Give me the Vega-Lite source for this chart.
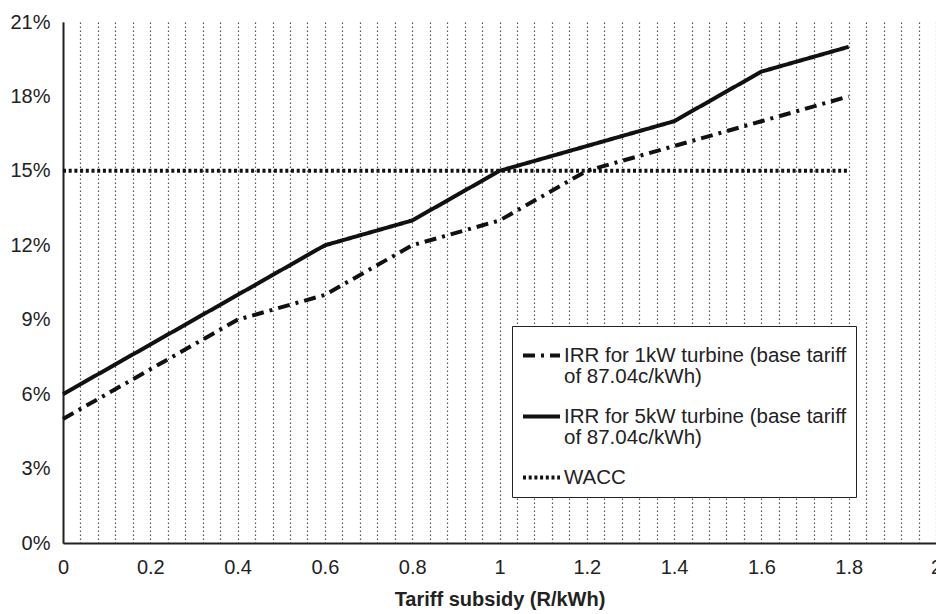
{
  "$schema": "https://vega.github.io/schema/vega-lite/v6.json",
  "width": 873,
  "height": 521,
  "autosize": {"type": "none"},
  "padding": {"left": 63, "top": 22, "right": 0, "bottom": 71},
  "background": "white",
  "config": {
    "view": {"stroke": null},
    "font": "Liberation Sans",
    "axis": {"labelFont": "Liberation Sans", "titleFont": "Liberation Sans", "labelColor": "#222", "titleColor": "#222"},
    "style": {"guide-label": {"lineHeight": 21}}
  },
  "data": {
    "values": [
      {"x": 0, "y": 0.05, "series": "1kW"},
      {"x": 0.2, "y": 0.07, "series": "1kW"},
      {"x": 0.4, "y": 0.09, "series": "1kW"},
      {"x": 0.6, "y": 0.10, "series": "1kW"},
      {"x": 0.8, "y": 0.12, "series": "1kW"},
      {"x": 1.0, "y": 0.13, "series": "1kW"},
      {"x": 1.2, "y": 0.15, "series": "1kW"},
      {"x": 1.4, "y": 0.16, "series": "1kW"},
      {"x": 1.6, "y": 0.17, "series": "1kW"},
      {"x": 1.8, "y": 0.18, "series": "1kW"},
      {"x": 0, "y": 0.06, "series": "5kW"},
      {"x": 0.2, "y": 0.08, "series": "5kW"},
      {"x": 0.4, "y": 0.10, "series": "5kW"},
      {"x": 0.6, "y": 0.12, "series": "5kW"},
      {"x": 0.8, "y": 0.13, "series": "5kW"},
      {"x": 1.0, "y": 0.15, "series": "5kW"},
      {"x": 1.2, "y": 0.16, "series": "5kW"},
      {"x": 1.4, "y": 0.17, "series": "5kW"},
      {"x": 1.6, "y": 0.19, "series": "5kW"},
      {"x": 1.8, "y": 0.20, "series": "5kW"},
      {"x": 0, "y": 0.15, "series": "WACC"},
      {"x": 1.8, "y": 0.15, "series": "WACC"}
    ]
  },
  "mark": {"type": "line", "color": "#111", "strokeWidth": 4},
  "encoding": {
    "x": {
      "field": "x", "type": "quantitative",
      "scale": {"domain": [0, 2], "nice": false, "zero": true},
      "axis": {
        "title": "Tariff subsidy (R/kWh)",
        "titleFontSize": 20, "titleFontWeight": "bold", "titlePadding": 12,
        "values": [0,0.04,0.08,0.12,0.16,0.2,0.24,0.28,0.32,0.36,0.4,0.44,0.48,0.52,0.56,0.6,0.64,0.68,0.72,0.76,0.8,0.84,0.88,0.92,0.96,1,1.04,1.08,1.12,1.16,1.2,1.24,1.28,1.32,1.36,1.4,1.44,1.48,1.52,1.56,1.6,1.64,1.68,1.72,1.76,1.8,1.84,1.88,1.92,1.96,2],
        "format": ".1~f",
        "labelExpr": "abs(datum.value*5 - round(datum.value*5)) < 0.001 ? datum.label : ''",
        "labelFontSize": 20, "labelPadding": 14, "labelFlush": false,
        "ticks": false,
        "domainColor": "#222", "domainWidth": 2,
        "grid": true, "gridColor": "#555", "gridDash": [1.5, 2.5], "gridWidth": 1.2
      }
    },
    "y": {
      "field": "y", "type": "quantitative",
      "scale": {"domain": [0, 0.21], "nice": false},
      "axis": {
        "title": null,
        "values": [0, 0.03, 0.06, 0.09, 0.12, 0.15, 0.18, 0.21],
        "format": ".0%",
        "labelFontSize": 20, "labelPadding": 13,
        "ticks": false, "grid": false,
        "domainColor": "#222", "domainWidth": 2
      }
    },
    "strokeDash": {
      "field": "series", "type": "nominal",
      "scale": {"domain": ["1kW", "5kW", "WACC"], "range": [[12, 6, 3, 6], [1, 0], [3, 2.7]]},
      "legend": {
        "title": null,
        "orient": "none", "legendX": 449, "legendY": 304,
        "strokeColor": "#222", "fillColor": "white", "padding": 9,
        "symbolType": "stroke", "symbolSize": 1369, "symbolStrokeWidth": 4, "symbolStrokeColor": "#111",
        "labelFontSize": 20.5, "labelLimit": 500, "labelColor": "#222", "labelBaseline": "middle",
        "rowPadding": 9, "labelOffset": 2,
        "labelExpr": "datum.label == '1kW' ? ['IRR for 1kW turbine (base tariff', 'of 87.04c/kWh)'] : datum.label == '5kW' ? ['IRR for 5kW turbine (base tariff', 'of 87.04c/kWh)'] : 'WACC'"
      }
    }
  }
}
